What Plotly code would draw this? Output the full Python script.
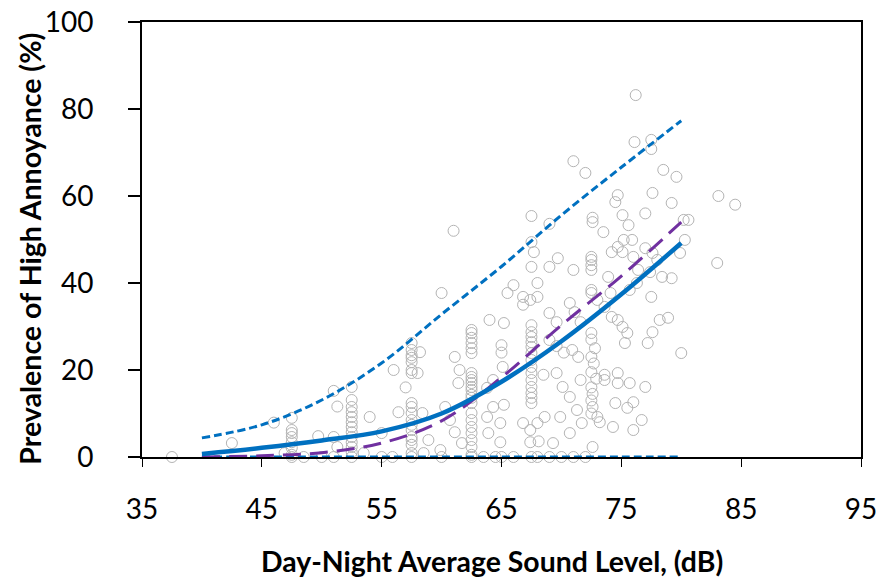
import plotly.graph_objects as go

# ---- data ----
curve_x = [40, 45, 50, 55, 60, 65, 70, 75, 80]
fit_y = [0.7, 2.1, 3.8, 5.9, 10.0, 17.3, 26.6, 37.4, 49.2]
upper_ci_y = [4.4, 7.4, 13.1, 21.6, 32.8, 43.8, 55.6, 66.6, 77.3]
lower_ci_y = [0, 0, 0, 0, 0, 0, 0, 0, 0]
alt_model_y = [0.0, 0.3, 1.0, 3.2, 8.3, 18.3, 30.3, 41.6, 54.0]

scatter_x = [
    37.5, 42.5, 46.0, 46.9,
    47.5, 47.5, 47.5, 47.5, 47.5, 47.5, 47.5, 47.5,
    49.7, 48.5, 50.0,
    51.0, 51.3, 51.0, 51.3, 51.0,
    52.5, 52.5, 52.5, 52.5, 52.5, 52.5, 52.5, 52.5, 52.5, 52.5, 52.5, 52.5, 52.5,
    53.5, 54.0, 55.0, 55.0, 55.9, 56.0, 57.0, 58.0, 58.2, 56.4, 58.4, 58.9, 58.5,
    57.5, 57.5, 57.5, 57.5, 57.5, 57.5, 57.5, 57.5, 57.5, 57.5, 57.5, 57.5, 57.5,
    57.5, 57.5, 57.5, 57.5, 57.5,
    60.0, 61.0, 60.3, 60.7, 61.1, 61.5, 61.4, 61.1, 59.9, 60.0, 61.7,
    62.5, 62.5, 62.5, 62.5, 62.5, 62.5, 62.5, 62.5, 62.5, 62.5, 62.5, 62.5,
    62.5, 62.5, 62.5, 62.5, 62.5, 62.5, 62.5, 62.5, 62.5, 62.5, 62.5,
    63.5, 64.5,
    71.0, 72.0, 67.5, 69.0, 67.5, 67.7, 67.5, 69.0, 69.7, 71.0, 66.0, 65.5, 68.0,
    66.8, 67.4, 66.8, 68.0, 64.0, 65.2,
    67.5, 67.5, 67.5, 67.5, 67.5, 67.5, 67.5, 67.5, 67.5, 67.5, 67.5, 67.5, 67.5, 67.5,
    69.0, 69.6, 70.7, 71.1, 71.6, 65.0, 65.0, 65.1, 64.3, 63.8, 69.0, 69.6, 70.2,
    70.9, 71.4, 68.5, 69.6, 70.1, 70.7, 71.6, 64.3, 65.2, 63.8, 64.9, 63.9, 64.9,
    66.8, 67.4, 68.0, 68.6, 69.9, 67.4, 68.1, 69.3, 70.7, 71.3, 71.7,
    65.0, 66.0, 67.5, 68.0, 69.0, 70.0, 71.0, 72.0,
    76.2, 76.1, 77.5, 77.5, 78.5, 79.6, 74.7, 74.5, 77.6, 79.2, 72.6, 72.6, 73.5,
    75.1, 75.6, 77.0, 80.2, 80.6, 80.3, 79.9, 75.2, 75.9, 74.7, 74.2, 75.1, 76.0,
    72.5, 72.5, 72.5, 72.5, 72.5, 72.5, 77.0, 77.6, 78.0, 78.4, 79.2, 76.4, 77.4,
    73.9, 74.1, 73.0, 73.6, 74.2, 74.7, 75.7, 76.3, 77.5, 78.2, 78.9, 77.6, 77.2,
    75.1, 75.5, 75.3, 80.0,
    72.5, 72.5, 72.8, 72.5, 72.7, 72.5, 72.9, 72.5, 72.6, 72.5, 72.6, 72.5, 73.2,
    73.6, 73.6, 74.7, 74.7, 75.7, 77.0, 74.5, 75.5, 76.0, 74.3, 76.0, 76.7, 72.6, 73.0,
    83.1, 84.5, 83.0,
]
scatter_y = [
    0.0, 3.2, 7.9, 0.9,
    9.0, 6.2, 5.5, 4.6, 3.4, 2.1, 0.5, 0.0,
    4.8, 0.0, 0.0,
    15.2, 11.6, 4.6, 2.3, 0.0,
    16.1, 13.1, 11.5, 10.3, 9.2, 8.0, 6.9, 5.7, 4.6, 3.4, 2.3, 1.1, 0.0,
    0.9, 9.2, 5.5, 0.0, 0.0, 20.0, 16.0, 19.3, 24.1, 10.3, 10.1, 3.9, 0.9,
    26.2, 24.6, 23.4, 22.8, 21.8, 20.0, 19.3, 12.4, 11.5, 10.1, 8.5, 7.4, 6.2,
    4.6, 3.9, 2.8, 0.9, 0.0,
    37.7, 52.0, 11.5, 8.5, 23.0, 20.0, 17.0, 5.7, 1.6, 0.0, 3.2,
    29.2, 28.5, 27.4, 26.2, 25.0, 23.9, 19.3, 18.4, 17.7, 17.0, 16.1, 15.4,
    14.3, 13.6, 12.4, 10.1, 8.5, 6.9, 5.5, 3.9, 2.3, 0.5, 0.0,
    0.0, 0.0,
    68.0, 65.3, 55.4, 53.6, 49.4, 47.1, 43.7, 43.7, 45.7, 43.0, 39.5, 37.7, 40.0,
    36.8, 36.1, 35.0, 36.8, 31.5, 30.8,
    30.3, 28.7, 27.6, 26.4, 25.3, 23.9, 22.3, 20.7, 19.3, 17.7, 16.1, 14.7, 13.6, 12.4,
    33.1, 31.0, 35.4, 33.3, 31.0, 25.7, 24.0, 20.7, 17.7, 15.9, 26.9, 25.5, 24.0,
    24.6, 23.0, 18.9, 19.3, 16.1, 13.8, 17.7, 11.5, 12.0, 9.2, 7.8, 5.5, 3.4,
    7.8, 6.2, 7.8, 9.2, 9.2, 3.4, 3.6, 3.2, 5.5, 10.8, 7.8,
    0.0, 0.0, 0.0, 0.0, 0.0, 0.0, 0.0, 0.0,
    83.2, 72.4, 72.9, 70.8, 66.0, 64.4, 60.2, 58.6, 60.7, 58.4, 55.0, 54.0, 51.7,
    55.6, 53.3, 56.0, 54.5, 54.5, 49.9, 46.9, 49.9, 49.9, 48.3, 47.1, 47.1, 46.0,
    46.0, 45.3, 44.1, 43.0, 38.4, 37.7, 48.0, 46.9, 45.3, 41.4, 41.1, 43.0, 42.5,
    41.4, 37.7, 36.1, 34.5, 32.2, 31.5, 38.4, 40.0, 36.8, 31.5, 32.0, 28.7, 26.2,
    29.9, 28.5, 26.2, 23.9,
    28.5, 27.0, 25.0, 23.0, 21.5, 19.5, 18.0, 16.0, 14.5, 13.0, 11.5, 10.0, 8.0,
    18.9, 17.7, 19.3, 17.0, 17.0, 16.1, 12.4, 11.3, 12.6, 6.9, 6.2, 8.5, 2.3, 9.2,
    60.0, 58.0, 44.6,
]

x_ticks = [35, 45, 55, 65, 75, 85, 95]
y_ticks = [0, 20, 40, 60, 80, 100]
x_title = "Day-Night Average Sound Level, (dB)"
y_title = "Prevalence of High Annoyance (%)"

BLUE = "#0070C0"
PURPLE = "#7030A0"
FONT = "Lato"

fig = go.Figure()

fig.add_trace(go.Scatter(
    x=scatter_x, y=scatter_y, mode="markers",
    marker=dict(symbol="circle-open", size=11, color="#B4B4B4", line=dict(width=1)),
    cliponaxis=False, showlegend=False, hoverinfo="skip"))

fig.add_trace(go.Scatter(
    x=curve_x, y=lower_ci_y, mode="lines", line_shape="spline",
    line=dict(color=BLUE, width=3, dash="8px,4px"), cliponaxis=False, showlegend=False))
fig.add_trace(go.Scatter(
    x=curve_x, y=upper_ci_y, mode="lines", line_shape="spline",
    line=dict(color=BLUE, width=3, dash="8px,4px"), showlegend=False))
fig.add_trace(go.Scatter(
    x=curve_x, y=alt_model_y, mode="lines", line_shape="spline",
    line=dict(color=PURPLE, width=3, dash="18px,9px"), cliponaxis=False, showlegend=False))
fig.add_trace(go.Scatter(
    x=curve_x, y=fit_y, mode="lines", line_shape="spline",
    line=dict(color=BLUE, width=4.5), cliponaxis=False, showlegend=False))

fig.update_xaxes(
    range=[35, 95], tickvals=x_ticks, ticktext=[str(v) for v in x_ticks],
    showline=True, linewidth=2, linecolor="black", mirror=True,
    ticks="outside", ticklen=8, tickwidth=1, tickcolor="black",
    showgrid=False, zeroline=False, ticklabelstandoff=18, automargin=False,
    ticklabeloverflow="allow",
    tickfont=dict(family=FONT, size=28, color="black"))
fig.update_yaxes(
    range=[0, 100], tickvals=y_ticks, ticktext=[str(v) for v in y_ticks],
    showline=True, linewidth=2, linecolor="black", mirror=True,
    ticks="outside", ticklen=12, tickwidth=2, tickcolor="black",
    showgrid=False, zeroline=False, ticklabelstandoff=29, automargin=False,
    ticklabeloverflow="allow",
    tickfont=dict(family=FONT, size=28, color="black"))

fig.add_annotation(text="<b>" + x_title + "</b>", xref="paper", yref="paper",
                   x=0.487, y=-0.238, xanchor="center", yanchor="middle", showarrow=False,
                   font=dict(family=FONT, size=28.4, color="black"))
fig.add_annotation(text="<b>" + y_title + "</b>", xref="paper", yref="paper",
                   x=-0.155, y=0.478, xanchor="center", yanchor="middle", showarrow=False,
                   textangle=-90, font=dict(family=FONT, size=28.5, color="black"))

fig.update_layout(
    width=883, height=580,
    margin=dict(l=142, r=22, t=22, b=123, autoexpand=False),
    paper_bgcolor="white", plot_bgcolor="white",
    font=dict(family=FONT, color="black"),
)

# remove the default 8px page margin so the figure fills the window exactly
fig.write_html("out.html", config={"displayModeBar": False},
               post_script="document.body.style.margin='0';document.body.style.overflow='hidden';")
